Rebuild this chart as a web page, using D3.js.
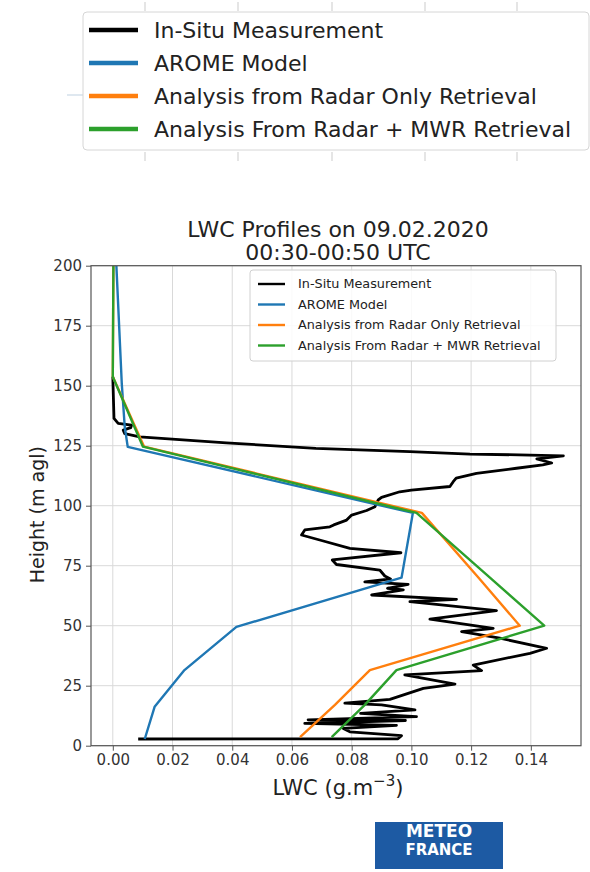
<!DOCTYPE html>
<html>
<head>
<meta charset="utf-8">
<title>LWC Profiles</title>
<script src="https://cdn.jsdelivr.net/npm/d3@7"></script>
<style>
body { margin: 0; background: #fff; }
svg { display: block; font-family: "DejaVu Sans", sans-serif; }
.grid line { stroke: #d9d9d9; stroke-width: 1; }
.tick text { fill: #333; }
</style>
</head>
<body>
<script>
// series names, in legend order
var seriesNames = ["In-Situ Measurement", "AROME Model",
  "Analysis from Radar Only Retrieval", "Analysis From Radar + MWR Retrieval"];
var seriesColors = ["#000000", "#1f77b4", "#ff7f0e", "#2ca02c"];

// in-situ profile (height m, LWC g/m3), top to bottom
var insituH = [153.7, 136.4, 134.3, 133.6, 132.5, 131.5, 130, 128.7, 126.2, 123.9, 122.5, 121.5, 121.1, 120.8,
  119.5, 117.8, 117, 115.6, 113.5, 111.5, 110, 108, 106.5, 105.8, 103.5, 102.4, 99.6, 98, 96.1, 94, 92, 91.2,
  89.9, 87.8, 85.5, 82.2, 80.4, 77.4, 75.5, 73.2, 70.7, 69.5, 68.3, 67.2, 65.6, 64.9, 62.8, 61, 60, 56.3,
  52.7, 48.9, 47.5, 44.8, 40.6, 38.5, 33.6, 31.3, 29.5, 25.7, 23.9, 19.3, 17.7, 17, 14.9, 13.5, 12.1, 10.8,
  10.5, 9.3, 8.5, 7.2, 5.8, 4.2, 2.9, 2.8];
var insituLWC = [0.000, 0.0004, 0.0018, 0.0063, 0.006, 0.0035, 0.004, 0.009, 0.038, 0.068, 0.0995, 0.1196, 0.1397, 0.1509,
  0.142, 0.147, 0.144, 0.1352, 0.1218, 0.115, 0.114, 0.1129, 0.1, 0.0961, 0.09, 0.0889, 0.0878, 0.085, 0.08, 0.0783, 0.074, 0.0727,
  0.0643, 0.0632, 0.0699, 0.0794, 0.0965, 0.0735, 0.0749, 0.0894, 0.0911, 0.093, 0.0844, 0.0989, 0.092, 0.0973, 0.0867, 0.1151, 0.0995, 0.1285,
  0.1062, 0.1274, 0.1168, 0.1296, 0.1453, 0.1397, 0.1207, 0.1235, 0.0978, 0.1146, 0.104, 0.0928, 0.0777, 0.09, 0.1012, 0.083, 0.1017, 0.0654,
  0.098, 0.0643, 0.095, 0.0772, 0.0794, 0.0967, 0.0955, 0.0085];

// AROME model levels
var aromeH = [2.8, 16.2, 31.5, 49.5, 70, 97, 124.5, 132.8, 151, 200];
var aromeLWC = [0.0107, 0.014, 0.024, 0.0414, 0.0967, 0.1005, 0.005, 0.004, 0.003, 0.0012];

// analyses
var analysisH = [3.6, 17, 31.5, 50, 70, 97, 124.6, 153.7, 200];
var radarLWC = [0.0627, 0.0744, 0.0861, 0.1363, 0.1225, 0.1035, 0.0105, 0.0, 0.0002];
var mwrLWC = [0.0733, 0.0844, 0.095, 0.1445, 0.1263, 0.1017, 0.0101, 0.0, 0.0002];

var xTicks = [0, 0.02, 0.04, 0.06, 0.08, 0.10, 0.12, 0.14];
var yTicks = [0, 25, 50, 75, 100, 125, 150, 175, 200];

var W = 590, H = 872;
var pLeft = 91, pRight = 581, pTop = 265.7, pBottom = 745.7;

var svg = d3.select("body").append("svg").attr("width", W).attr("height", H);

var x = d3.scaleLinear().domain([-0.0073, 0.1568]).range([pLeft, pRight]);
var y = d3.scaleLinear().domain([0, 200]).range([pBottom, pTop]);

// ---- detached legend at the top (with ghost ticks of its hidden axes)
var ghost = svg.append("g").attr("stroke", "#d4d4d4").attr("stroke-width", 1.2);
[145, 238, 332, 425, 517].forEach(function (gx) {
  ghost.append("line").attr("x1", gx).attr("x2", gx).attr("y1", 2).attr("y2", 11);
  ghost.append("line").attr("x1", gx).attr("x2", gx).attr("y1", 152).attr("y2", 161);
});
ghost.append("line").attr("x1", 67).attr("x2", 83).attr("y1", 95).attr("y2", 95).attr("stroke", "#c9d9e6");

var topLeg = svg.append("g");
topLeg.append("rect").attr("x", 83).attr("y", 12).attr("width", 506).attr("height", 138)
  .attr("rx", 4).attr("fill", "#fff").attr("stroke", "#d6d6d6");
seriesNames.forEach(function (name, i) {
  var cy = 30 + i * 33;
  topLeg.append("line").attr("x1", 89).attr("x2", 138).attr("y1", cy).attr("y2", cy)
    .attr("stroke", seriesColors[i]).attr("stroke-width", 4.5);
  topLeg.append("text").attr("x", 154).attr("y", cy).attr("dy", "0.35em")
    .attr("font-size", 22).attr("fill", "#222").text(name);
});

// ---- title
var title = svg.append("text").attr("text-anchor", "middle").attr("font-size", 22).attr("fill", "#222");
title.append("tspan").attr("x", (pLeft + pRight) / 2 + 2).attr("y", 237).text("LWC Profiles on 09.02.2020");
title.append("tspan").attr("x", (pLeft + pRight) / 2 + 2).attr("y", 260).text("00:30-00:50 UTC");

// ---- grid
svg.append("g").attr("class", "grid").selectAll("line").data(xTicks).join("line")
  .attr("x1", d => x(d)).attr("x2", d => x(d)).attr("y1", pTop).attr("y2", pBottom);
svg.append("g").attr("class", "grid").selectAll("line").data(yTicks).join("line")
  .attr("x1", pLeft).attr("x2", pRight).attr("y1", d => y(d)).attr("y2", d => y(d));

// ---- axes
var xAxis = svg.append("g").attr("transform", "translate(0," + pBottom + ")")
  .call(d3.axisBottom(x).tickValues(xTicks).tickFormat(d3.format(".2f")).tickSize(5).tickPadding(4));
var yAxis = svg.append("g").attr("transform", "translate(" + pLeft + ",0)")
  .call(d3.axisLeft(y).tickValues(yTicks).tickSize(5).tickPadding(4));
[xAxis, yAxis].forEach(function (a) {
  a.select(".domain").remove();
  a.selectAll(".tick line").attr("stroke", "#555");
  a.selectAll(".tick text").attr("font-size", 15).attr("font-family", "DejaVu Sans");
});

// ---- lines
svg.append("clipPath").attr("id", "clip").append("rect")
  .attr("x", pLeft).attr("y", pTop).attr("width", pRight - pLeft).attr("height", pBottom - pTop);
var line = d3.line().x(d => x(d[1])).y(d => y(d[0]));
var plot = svg.append("g").attr("clip-path", "url(#clip)");
var series = [
  d3.zip(insituH, insituLWC),
  d3.zip(aromeH, aromeLWC),
  d3.zip(analysisH, radarLWC),
  d3.zip(analysisH, mwrLWC)
];
series.forEach(function (pts, i) {
  plot.append("path").datum(pts).attr("d", line).attr("fill", "none")
    .attr("stroke", seriesColors[i]).attr("stroke-width", i === 0 ? 2.8 : 2.4)
    .attr("stroke-linejoin", "round");
});

// frame
svg.append("rect").attr("x", pLeft).attr("y", pTop).attr("width", pRight - pLeft).attr("height", pBottom - pTop)
  .attr("fill", "none").attr("stroke", "#555").attr("stroke-width", 1.2);

// ---- inner legend
var leg = svg.append("g");
leg.append("rect").attr("x", 250).attr("y", 270).attr("width", 306).attr("height", 91)
  .attr("rx", 3).attr("fill", "#fff").attr("fill-opacity", 0.85).attr("stroke", "#d0d0d0");
seriesNames.forEach(function (name, i) {
  var cy = 284 + i * 20.5;
  leg.append("line").attr("x1", 258).attr("x2", 285).attr("y1", cy).attr("y2", cy)
    .attr("stroke", seriesColors[i]).attr("stroke-width", 2.4);
  leg.append("text").attr("x", 298).attr("y", cy).attr("dy", "0.35em")
    .attr("font-size", 12.8).attr("fill", "#222").text(name);
});

// ---- axis labels
svg.append("text").attr("transform", "translate(37," + ((pTop + pBottom) / 2 + 9) + ") rotate(-90)")
  .attr("text-anchor", "middle").attr("dy", "0.35em").attr("font-size", 19).attr("fill", "#222")
  .text("Height (m agl)");
var xl = svg.append("text").attr("x", 338).attr("y", 795)
  .attr("text-anchor", "middle").attr("font-size", 21).attr("fill", "#222");
xl.append("tspan").text("LWC (g.m");
xl.append("tspan").attr("dy", -9).attr("font-size", 15).text("\u22123");
xl.append("tspan").attr("dy", 9).text(")");

// ---- logo
var logo = svg.append("g");
logo.append("rect").attr("x", 375).attr("y", 822).attr("width", 128).attr("height", 47).attr("fill", "#1d5aa3");
logo.append("text").attr("x", 439).attr("y", 837).attr("text-anchor", "middle")
  .attr("font-size", 17).attr("font-weight", "bold").attr("fill", "#fff").text("METEO");
logo.append("text").attr("x", 439).attr("y", 855).attr("text-anchor", "middle")
  .attr("font-size", 15).attr("font-weight", "bold").attr("fill", "#fff").text("FRANCE");
</script>
</body>
</html>
